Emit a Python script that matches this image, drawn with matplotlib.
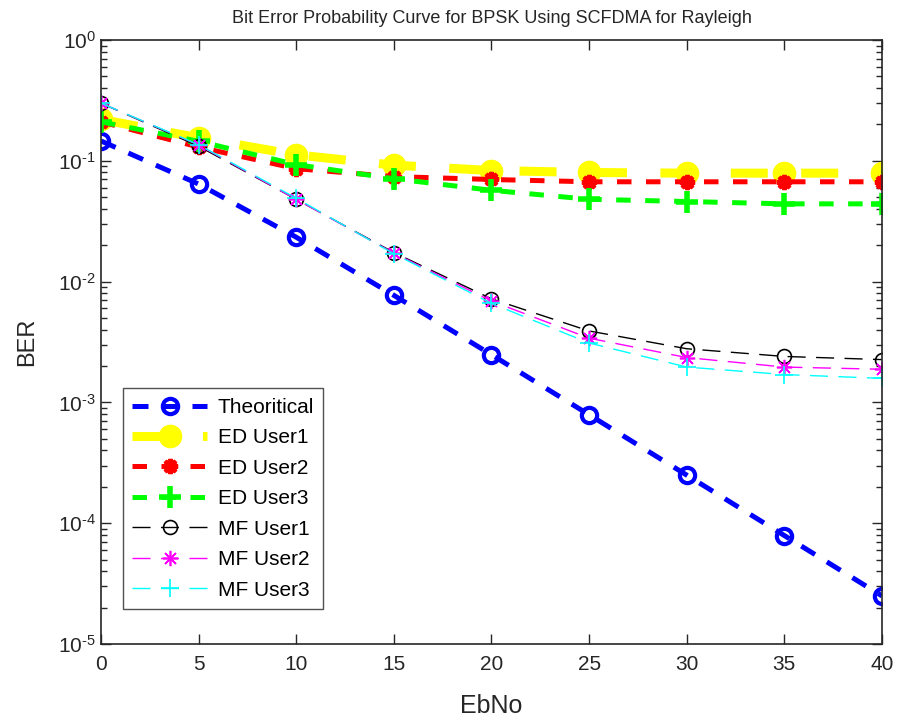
import numpy as np
import matplotlib
matplotlib.use("Agg")
import matplotlib.pyplot as plt
from matplotlib.ticker import FuncFormatter, LogLocator, NullLocator

plt.rcParams['font.family'] = ['Liberation Sans', 'DejaVu Sans']
plt.rcParams['mathtext.fontset'] = 'custom'
plt.rcParams['mathtext.rm'] = 'Liberation Sans'
plt.rcParams['mathtext.it'] = 'Liberation Sans'

# data
ebno = [0, 5, 10, 15, 20, 25, 30, 35, 40]
theoretical = [0.146, 0.0642, 0.0233, 0.0077, 0.00248, 0.00079, 0.00025, 0.000079, 0.000025]
ed_user1 = [0.22, 0.155, 0.112, 0.092, 0.083, 0.080, 0.079, 0.079, 0.079]
ed_user2 = [0.21, 0.13, 0.086, 0.074, 0.070, 0.067, 0.067, 0.067, 0.067]
ed_user3 = [0.21, 0.145, 0.093, 0.071, 0.057, 0.048, 0.046, 0.044, 0.044]
mf_user1 = [0.30, 0.132, 0.048, 0.0174, 0.0072, 0.0039, 0.00278, 0.0024, 0.00226]
mf_user2 = [0.30, 0.135, 0.048, 0.0172, 0.0069, 0.0034, 0.00235, 0.00196, 0.00188]
mf_user3 = [0.30, 0.136, 0.049, 0.0170, 0.0066, 0.0031, 0.00196, 0.0017, 0.00158]

fig = plt.figure(figsize=(9.03, 7.23), dpi=100)
ax = fig.add_axes([0.1118, 0.1093, 0.8649, 0.8354])

asterisk = (8, 2, 0)

ax.semilogy(ebno, theoretical, color=(0, 0, 1), lw=3.6, ls=(0, (3.2, 2.8)),
            marker='o', ms=11, mfc='none', mew=3, label='Theoritical')
ax.semilogy(ebno, ed_user1, color=(1, 1, 0), lw=6.5, ls=(0, (4.1, 3.7)),
            marker='o', ms=16, mfc=(1, 1, 0), mew=1, label='ED User1')
ax.semilogy(ebno, ed_user2, color=(1, 0, 0), lw=3.6, ls=(0, (2.9, 2.9)),
            marker=asterisk, ms=11, mew=3, label='ED User2')
ax.semilogy(ebno, ed_user3, color=(0, 1, 0), lw=3.6, ls=(0, (2.9, 2.9)),
            marker='+', ms=16, mew=4, label='ED User3')
ax.semilogy(ebno, mf_user1, color='k', lw=1, ls=(0, (13, 7.5)),
            marker='o', ms=10, mfc='none', mew=1.2, label='MF User1')
ax.semilogy(ebno, mf_user2, color=(1, 0, 1), lw=1, ls=(0, (13, 7.5)),
            marker=asterisk, ms=11, mew=1.2, label='MF User2')
ax.semilogy(ebno, mf_user3, color=(0, 1, 1), lw=1, ls=(0, (13, 7.5)),
            marker='+', ms=13, mew=1.2, label='MF User3')

ax.set_xlim(0, 40)
ax.set_ylim(1e-5, 1)
ax.set_xticks(ebno)
ax.xaxis.set_minor_locator(NullLocator())
ax.yaxis.set_major_locator(LogLocator(base=10, numticks=10))
ax.yaxis.set_major_formatter(FuncFormatter(
    lambda v, p: r'$10^{\text{%d}}$' % int(round(np.log10(v)))))
ax.tick_params(which='both', direction='in', top=True, right=True,
               colors='#262626', labelsize=15, width=1)
ax.tick_params(axis='x', pad=8)
ax.tick_params(which='major', length=7)
ax.tick_params(which='minor', length=4)
for s in ax.spines.values():
    s.set_color('#262626')
    s.set_linewidth(1.2)

ax.set_xlabel('EbNo', fontsize=18, color='#262626', labelpad=14)
ax.set_ylabel('BER', fontsize=17, color='#262626', labelpad=14)
ax.set_title('Bit Error Probability Curve for BPSK Using SCFDMA for Rayleigh',
             fontsize=13, color='#262626', pad=12)

leg = ax.legend(loc='lower left', bbox_to_anchor=(0.028, 0.058), fontsize=15,
                handlelength=3.6, frameon=True, fancybox=False, borderpad=0.45,
                labelspacing=0.55, handletextpad=0.5, borderaxespad=0)
leg.get_frame().set_edgecolor('#262626')
leg.get_frame().set_linewidth(1)

fig.savefig('out.png', dpi=100)
